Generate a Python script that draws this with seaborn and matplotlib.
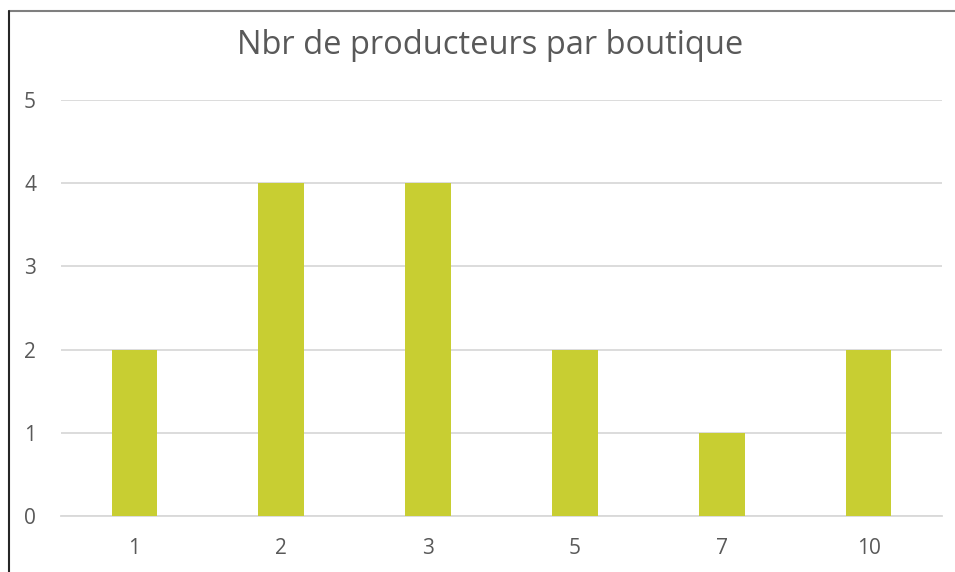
import matplotlib
matplotlib.use('Agg')
import matplotlib.pyplot as plt
import seaborn as sns
import numpy as np
import pandas as pd
from matplotlib.lines import Line2D

# Chart values
categories = ['1', '2', '3', '5', '7', '10']
counts = [2, 4, 4, 2, 1, 2]
y_ticks = [0, 1, 2, 3, 4, 5]

df = pd.DataFrame({'boutique': categories, 'producteurs': counts})

sns.set_style('white')
plt.rcParams['font.family'] = ['Open Sans', 'DejaVu Sans']

text_col = '#595959'
grid_col = '#D9D9D9'

fig = plt.figure(figsize=(9.55, 5.72), dpi=100)
ax = fig.add_axes([61 / 955, 1 - 516 / 572, (942 - 61) / 955, (516 - 100) / 572])

sns.barplot(data=df, x='boutique', y='producteurs', order=categories,
            color='#C8CE32', width=0.31, saturation=1, linewidth=0, ax=ax, zorder=3)

ax.set_ylim(0, 5)
ax.set_xlim(-0.5, len(categories) - 0.5)
ax.set_yticks(y_ticks)
ax.yaxis.grid(True, color=grid_col, linewidth=1.3, zorder=0)
ax.set_axisbelow(True)

for side in ['top', 'right', 'left']:
    ax.spines[side].set_visible(False)
ax.spines['bottom'].set_color(grid_col)
ax.spines['bottom'].set_linewidth(1.3)

ax.set_xticks(np.arange(-0.5, len(categories)), minor=True)
ax.tick_params(axis='x', which='minor', length=7, width=1.3, color=grid_col, direction='out')
ax.tick_params(axis='x', which='major', length=0, pad=16, labelsize=15, labelcolor=text_col)
ax.tick_params(axis='y', length=0, pad=18, labelsize=15, labelcolor=text_col)

ax.set_xlabel('')
ax.set_ylabel('')

fig.text(490 / 955, 1 - 46 / 572, 'Nbr de producteurs par boutique', ha='center', va='center',
         fontsize=23.5, color=text_col)

# chart frame (top and left edges visible)
fig.add_artist(Line2D([9 / 955, 1], [1 - 11 / 572, 1 - 11 / 572], transform=fig.transFigure,
                      color='#7F7F7F', linewidth=1.5))
fig.add_artist(Line2D([9 / 955, 9 / 955], [0, 1 - 11 / 572], transform=fig.transFigure,
                      color='#262626', linewidth=1.5))

fig.savefig('out.png', dpi=100)
